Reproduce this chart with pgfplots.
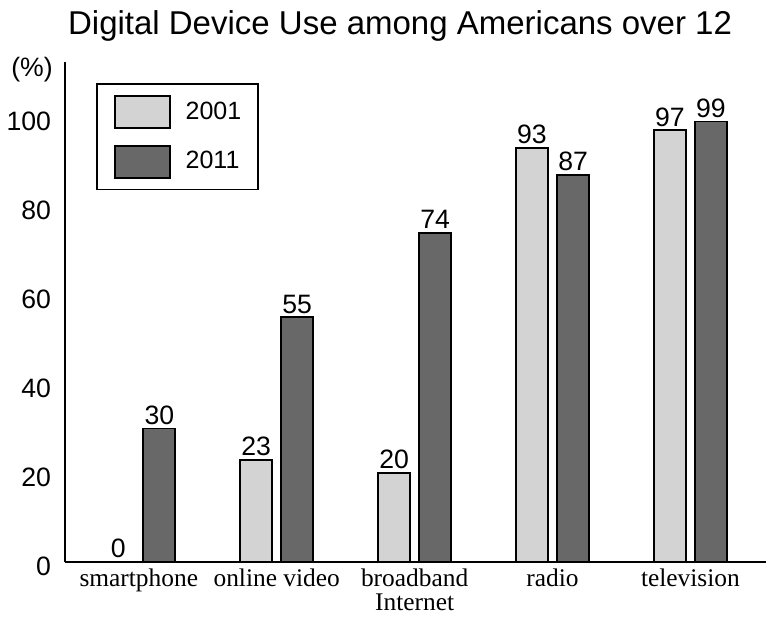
\documentclass[border=0pt]{standalone}
\usepackage{pgfplots}
\pgfplotsset{compat=1.18}
\usepackage{fontspec}
\setmainfont{Liberation Sans}
\newfontfamily\serifword{Liberation Serif}
\definecolor{lightbar}{HTML}{D3D3D3}
\definecolor{darkbar}{HTML}{686868}

\begin{document}
\begin{tikzpicture}
\useasboundingbox (-32.5pt,-27.5pt) rectangle (350.5pt,281pt);
\begin{axis}[
    at={(0pt,0pt)}, anchor=south west,
    scale only axis,
    width=350.5pt, height=250pt,
    xmin=-0.535, xmax=4.548,
    ymin=0, ymax=112.36,
    clip=false,
    ybar, bar width=0.232,
    axis x line*=bottom,
    axis y line*=left,
    axis line style={-, line width=1pt},
    major tick length=0pt,
    xtick={0,1,2,3,4},
    xticklabels={smartphone, online video, broadband\\Internet, radio, television},
    x tick label style={font=\serifword\fontsize{12.7}{12}\selectfont, align=center},
    ytick={0,20,40,60,80,100},
    y tick label style={font=\fontsize{13.3}{15}\selectfont, xshift=-3.5pt, yshift=-2pt},
    /pgf/number format/assume math mode=true,
    nodes near coords,
    every node near coord/.append style={font=\fontsize{13.3}{15}\selectfont, inner sep=1.5pt, black},
    mybar/.style={draw=black, line width=0.9pt,
        legend image code/.code={\draw[##1] (0pt,-8pt) rectangle (27.5pt,8pt); \path (35pt,0pt);}},
    legend style={at={(0.0442,0.958)}, anchor=north west, draw=black, line width=0.9pt,
        inner xsep=8.5pt, inner ysep=5.5pt, row sep=8pt,
        font=\fontsize{12.5}{14}\selectfont, nodes={inner sep=0pt}},
    legend cell align=left,
]
% 2001
\addplot[mybar, fill=lightbar, bar shift=-0.149] coordinates {
    (0,0) (1,23) (2,20) (3,93) (4,97)
};
% 2011
\addplot[mybar, fill=darkbar, bar shift=0.149] coordinates {
    (0,30) (1,55) (2,74) (3,87) (4,99)
};
\legend{2001, 2011}
\node[font=\fontsize{13.3}{15}\selectfont] at (rel axis cs:-0.0471,0.984) {(\%)};
\node[font=\fontsize{16.5}{18}\selectfont, anchor=base] at (rel axis cs:0.478,1.054) {Digital Device Use among Americans over 12};
\end{axis}
\end{tikzpicture}
\end{document}
